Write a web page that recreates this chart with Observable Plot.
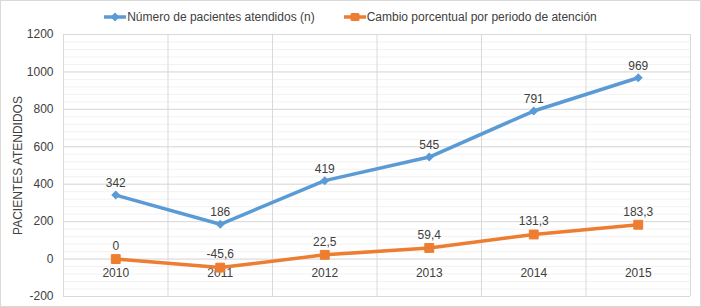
<!DOCTYPE html>
<html><head><meta charset="utf-8">
<script src="https://cdn.jsdelivr.net/npm/d3@7"></script>
<script src="https://cdn.jsdelivr.net/npm/@observablehq/plot@0.6"></script>
<style>
html,body{margin:0;padding:0;background:#fff;}
#chart{width:701px;height:307px;box-sizing:border-box;border:1px solid #d9d9d9;font-family:"Liberation Sans Narrow","Arial Narrow","Liberation Sans",Arial,sans-serif;color:#404040;overflow:hidden;background:#fff}
#legend{height:26px;box-sizing:border-box;padding-top:6px;display:flex;justify-content:center;align-items:center;gap:29px;font-size:12px;}
.item{display:flex;align-items:center;}
.item svg{margin-right:1px;}
#plot svg{display:block;}
</style>
</head><body>
<div id="chart"><div id="legend"></div><div id="plot"></div></div>
<script>
const years = [2010, 2011, 2012, 2013, 2014, 2015];
const pacientes = [342, 186, 419, 545, 791, 969];
const cambio = [0, -45.6, 22.5, 59.4, 131.3, 183.3];
const seriesNames = ["Número de pacientes atendidos (n)", "Cambio porcentual por periodo de atención"];
const yTicks = [-200, 0, 200, 400, 600, 800, 1000, 1200];
const yLabel = "PACIENTES ATENDIDOS";
const blue = "#5B9BD5", orange = "#ED7D31";

const dataA = years.map((y, i) => ({year: y, v: pacientes[i]}));
const dataB = years.map((y, i) => ({year: y, v: cambio[i]}));
const fmt = v => String(v).replace(".", ",");
const yMinor = d3.range(yTicks[0], yTicks[yTicks.length - 1] + 1, 40);
const xBounds = [...years.map(y => y - 0.5), years[years.length - 1] + 0.5];

const diamond = {draw(ctx, size) { const r = Math.sqrt(size / 2); ctx.moveTo(0, -r); ctx.lineTo(r, 0); ctx.lineTo(0, r); ctx.lineTo(-r, 0); ctx.closePath(); }};
const square = {draw(ctx, size) { const s = Math.sqrt(size) / 2; ctx.rect(-s, -s, 2 * s, 2 * s); }};

// legend
const legend = document.getElementById("legend");
[[seriesNames[0], blue, "d"], [seriesNames[1], orange, "s"]].forEach(([name, col, sym]) => {
  const marker = sym === "d"
    ? `<path d="M11,0.5L15.5,5L11,9.5L6.5,5Z" fill="${col}"/>`
    : `<rect x="6.5" y="1" width="9" height="8" rx="1.5" fill="${col}"/>`;
  const el = document.createElement("div");
  el.className = "item";
  el.innerHTML = `<svg width="22" height="10"><line x1="0" x2="22" y1="5" y2="5" stroke="${col}" stroke-width="3.5"/>${marker}</svg><span>${name}</span>`;
  legend.appendChild(el);
});

const plot = Plot.plot({
  width: 699, height: 279,
  marginTop: 7, marginBottom: 10, marginLeft: 62, marginRight: 10,
  style: {fontFamily: '"Liberation Sans Narrow","Arial Narrow","Liberation Sans",Arial,sans-serif', fontSize: "12px", color: "#404040", background: "#fff"},
  x: {type: "linear", domain: [xBounds[0], xBounds[xBounds.length - 1]], axis: null},
  y: {domain: [yTicks[0], yTicks[yTicks.length - 1]], axis: null},
  marks: [
    Plot.ruleY(yMinor, {stroke: "#f2f2f2", strokeWidth: 1}),
    Plot.ruleY(yTicks, {stroke: "#d9d9d9", strokeWidth: 1}),
    Plot.ruleX(xBounds, {stroke: "#d9d9d9", strokeWidth: 1}),
    Plot.axisY(yTicks, {tickSize: 0, tickPadding: 10, label: null, fill: "#404040", tickFormat: d => String(d)}),
    Plot.text([yLabel], {frameAnchor: "left", textAnchor: "middle", rotate: -90, dx: -45, fill: "#404040"}),
    Plot.text(years, {x: d => d, y: () => 0, dy: 14, text: d => String(d), fill: "#404040"}),
    Plot.line(dataA, {x: "year", y: "v", stroke: blue, strokeWidth: 3.5}),
    Plot.dot(dataA, {x: "year", y: "v", symbol: diamond, r: 3.6, fill: blue}),
    Plot.line(dataB, {x: "year", y: "v", stroke: orange, strokeWidth: 3.5}),
    Plot.dot(dataB, {x: "year", y: "v", symbol: square, r: 5, fill: orange, strokeLinejoin: "round", stroke: orange, strokeWidth: 1}),
    Plot.text(dataA, {x: "year", y: "v", text: d => fmt(d.v), dy: -12, fill: "#404040"}),
    Plot.text(dataB, {x: "year", y: "v", text: d => fmt(d.v), dy: -13, fill: "#404040"})
  ]
});
document.getElementById("plot").appendChild(plot);
</script>
</body></html>
